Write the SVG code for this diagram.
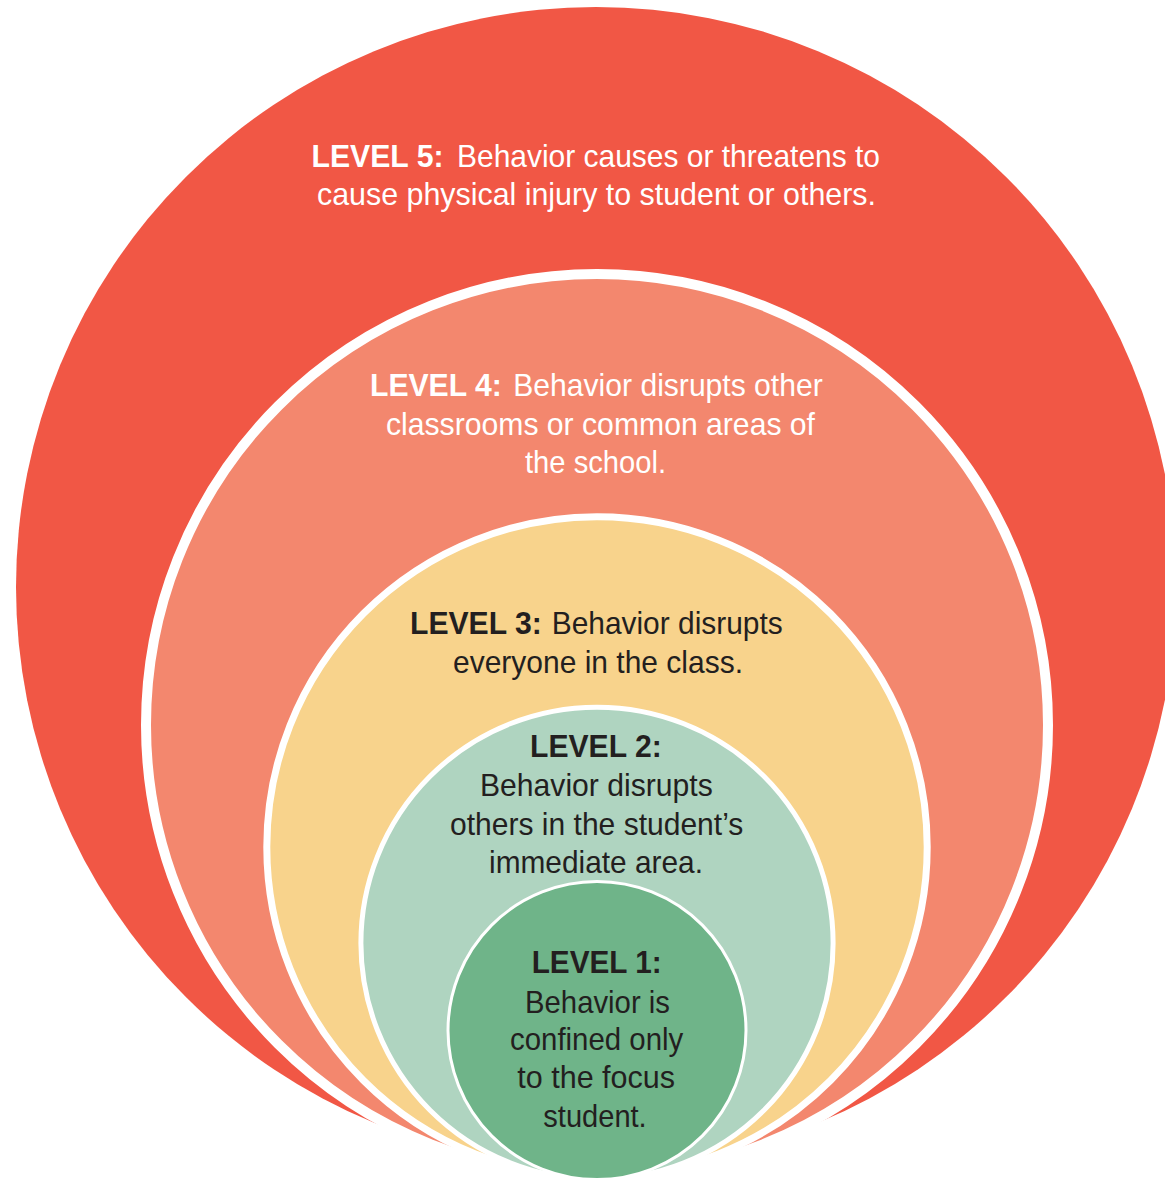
<svg xmlns="http://www.w3.org/2000/svg" width="1165" height="1178" viewBox="0 0 1165 1178">
<style>
.ring{stroke:#FFFFFF}
.t{font-family:"Liberation Sans Narrow","Liberation Sans",Arial,sans-serif;font-size:32px;font-weight:400}
.b{font-weight:700}
.w{fill:#FFFFFF}
.d{fill:#231F20}
</style>
<rect width="1165" height="1178" fill="#FFFFFF"/>
<g id="level5">
<circle cx="596" cy="587" r="580" fill="#F15745"/>
<text class="t b w" x="311.5" y="166.7" textLength="132" lengthAdjust="spacingAndGlyphs">LEVEL 5:</text>
<text class="t w" x="457" y="166.7" textLength="423" lengthAdjust="spacingAndGlyphs">Behavior causes or threatens to</text>
<text class="t w" x="317" y="205" textLength="559" lengthAdjust="spacingAndGlyphs">cause physical injury to student or others.</text>
</g>
<g id="level4">
<circle class="ring" cx="597" cy="725" r="451" fill="#F3876E" stroke-width="10"/>
<text class="t b w" x="370" y="396" textLength="131.7" lengthAdjust="spacingAndGlyphs">LEVEL 4:</text>
<text class="t w" x="513.3" y="396" textLength="309.4" lengthAdjust="spacingAndGlyphs">Behavior disrupts other</text>
<text class="t w" x="386" y="434.5" textLength="429" lengthAdjust="spacingAndGlyphs">classrooms or common areas of</text>
<text class="t w" x="525" y="472.7" textLength="141" lengthAdjust="spacingAndGlyphs">the school.</text>
</g>
<g id="level3">
<circle class="ring" cx="597" cy="847" r="330.2" fill="#F8D38C" stroke-width="7"/>
<text class="t b d" x="410" y="634.3" textLength="131.7" lengthAdjust="spacingAndGlyphs">LEVEL 3:</text>
<text class="t d" x="551.7" y="634.3" textLength="231" lengthAdjust="spacingAndGlyphs">Behavior disrupts</text>
<text class="t d" x="453" y="672.7" textLength="290" lengthAdjust="spacingAndGlyphs">everyone in the class.</text>
</g>
<g id="level2">
<circle class="ring" cx="597" cy="943.3" r="236.1" fill="#AFD4C0" stroke-width="5"/>
<text class="t b d" x="530" y="756.7" textLength="131.7" lengthAdjust="spacingAndGlyphs">LEVEL 2:</text>
<text class="t d" x="480" y="796" textLength="232.7" lengthAdjust="spacingAndGlyphs">Behavior disrupts</text>
<text class="t d" x="450" y="835" textLength="293.3" lengthAdjust="spacingAndGlyphs">others in the student’s</text>
<text class="t d" x="489" y="873.3" textLength="214" lengthAdjust="spacingAndGlyphs">immediate area.</text>
</g>
<g id="level1">
<circle class="ring" cx="597" cy="1030.5" r="149" fill="#6FB489" stroke-width="3"/>
<text class="t b d" x="531.7" y="973.3" textLength="130" lengthAdjust="spacingAndGlyphs">LEVEL 1:</text>
<text class="t d" x="525" y="1012.7" textLength="145" lengthAdjust="spacingAndGlyphs">Behavior is</text>
<text class="t d" x="510" y="1050" textLength="173.3" lengthAdjust="spacingAndGlyphs">confined only</text>
<text class="t d" x="517.3" y="1088.3" textLength="157.7" lengthAdjust="spacingAndGlyphs">to the focus</text>
<text class="t d" x="543.3" y="1126.7" textLength="103.4" lengthAdjust="spacingAndGlyphs">student.</text>
</g>
<g id="connectors"/>
</svg>
